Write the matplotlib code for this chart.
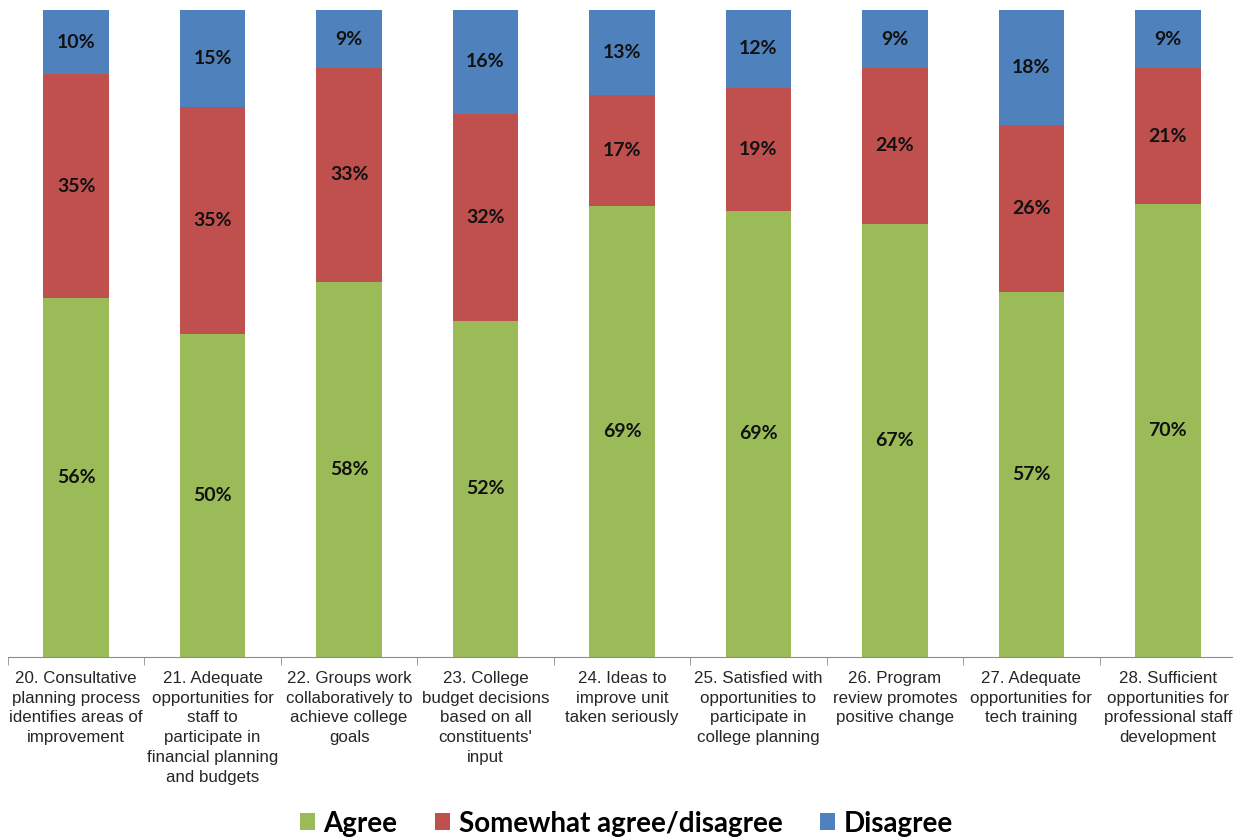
import numpy as np
import matplotlib.pyplot as plt

questions = [
    "20. Consultative\nplanning process\nidentifies areas of\nimprovement",
    "21. Adequate\nopportunities for\nstaff to\nparticipate in\nfinancial planning\nand budgets",
    "22. Groups work\ncollaboratively to\nachieve college\ngoals",
    "23. College\nbudget decisions\nbased on all\nconstituents'\ninput",
    "24. Ideas to\nimprove unit\ntaken seriously",
    "25. Satisfied with\nopportunities to\nparticipate in\ncollege planning",
    "26. Program\nreview promotes\npositive change",
    "27. Adequate\nopportunities for\ntech training",
    "28. Sufficient\nopportunities for\nprofessional staff\ndevelopment",
]
agree = [56, 50, 58, 52, 69, 69, 67, 57, 70]
somewhat = [35, 35, 33, 32, 17, 19, 24, 26, 21]
disagree = [10, 15, 9, 16, 13, 12, 9, 18, 9]

series = [("Agree", agree, "#9BBB59"),
          ("Somewhat agree/disagree", somewhat, "#C0504D"),
          ("Disagree", disagree, "#4F81BD")]

fig = plt.figure(figsize=(12.33, 8.39), dpi=100)
ax = fig.add_axes([8 / 1233, (839 - 657) / 839, 1228 / 1233, 647 / 839])

x = np.arange(len(questions))
totals = np.array(agree) + np.array(somewhat) + np.array(disagree)
bottom = np.zeros(len(questions))
for name, vals, color in series:
    vals = np.array(vals)
    share = vals / totals * 100  # 100% stacked
    ax.bar(x, share, 0.48, bottom=bottom, color=color, label=name)
    for xi, b, s, v in zip(x, bottom, share, vals):
        ax.text(xi, b + s / 2, f"{v}%", ha="center", va="center",
                fontsize=14, fontweight="bold", family="Lato", color="#111111")
    bottom += share

ax.set_xlim(-0.5, len(questions) - 0.5)
ax.set_ylim(0, 100)
ax.set_yticks([])
for side in ["left", "right", "top"]:
    ax.spines[side].set_visible(False)
ax.spines["bottom"].set_color("#8c8c8c")

ax.set_xticks(x)
ax.set_xticklabels(questions, fontsize=12.2, family="Liberation Sans",
                   color="#262626", linespacing=1.4)
ax.tick_params(axis="x", which="major", length=0, pad=10)
ax.set_xticks(np.arange(-0.5, len(questions)), minor=True)
ax.tick_params(axis="x", which="minor", length=6, color="#8c8c8c")

fig.legend(loc="lower center", bbox_to_anchor=(0.508, -0.027), ncol=3, frameon=False,
           prop={"family": "Lato", "weight": "bold", "size": 20},
           handlelength=0.55, handleheight=0.55, handletextpad=0.3, columnspacing=1.35)

fig.savefig("out.png", dpi=100)
